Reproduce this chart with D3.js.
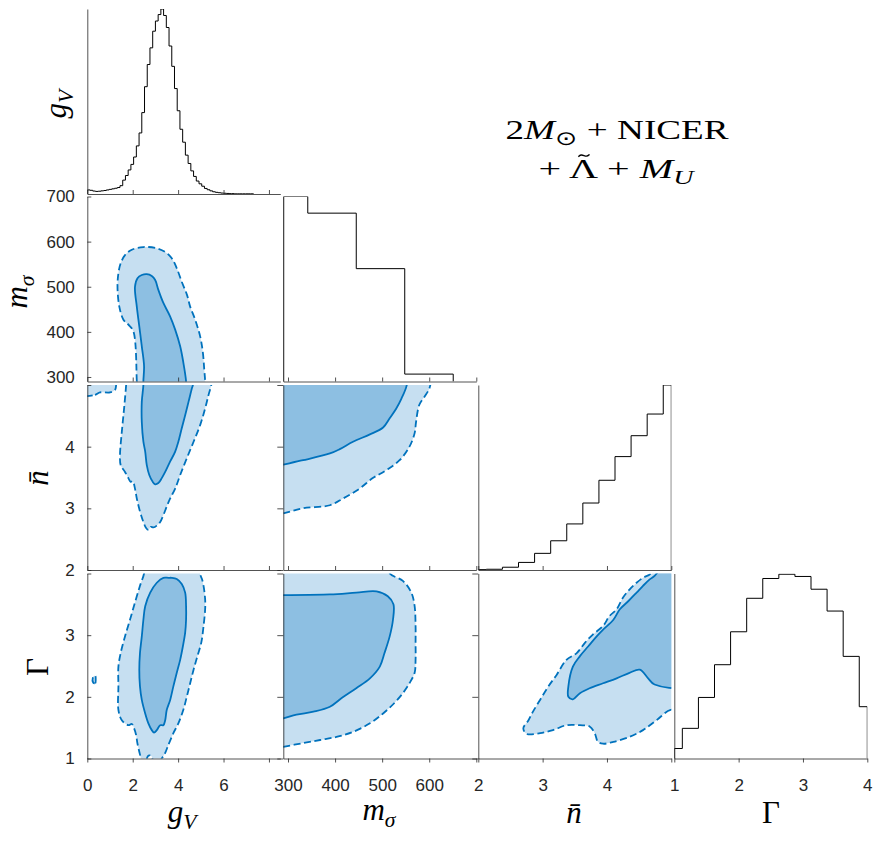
<!DOCTYPE html>
<html>
<head>
<meta charset="utf-8">
<script src="https://cdn.jsdelivr.net/npm/d3@7"></script>
<style>
body { margin: 0; background: white; }
svg { display: block; }
</style>
</head>
<body>
<svg id="corner" width="878" height="861"></svg>
<script>
// 1D marginals (normalised bin heights)
const gVHist = [0.022, 0.020, 0.016, 0.014, 0.015, 0.017, 0.019, 0.022, 0.025, 0.028, 0.031, 0.035,
    0.045, 0.075, 0.100, 0.130, 0.160, 0.200, 0.260, 0.330, 0.440, 0.580, 0.700, 0.790, 0.880, 0.935,
    0.970, 1.000, 0.965, 0.900, 0.800, 0.690, 0.570, 0.450, 0.350, 0.280, 0.210, 0.165, 0.125, 0.095,
    0.070, 0.055, 0.042, 0.030, 0.023, 0.017, 0.012, 0.009, 0.007, 0.005, 0.004, 0.003, 0.002, 0.002,
    0.001, 0.001, 0.001, 0.001, 0.001, 0.001, 0.001];
const mSigmaHist = [1.00, 0.91, 0.61, 0.04];
const nBarHist = [0.002, 0.004, 0.015, 0.041, 0.090, 0.158, 0.249, 0.362, 0.485, 0.613, 0.726, 0.843, 1.000];
const gammaHist = [0.054, 0.163, 0.330, 0.507, 0.685, 0.866, 0.973, 0.996, 0.984, 0.915, 0.797, 0.552, 0.280];

// 2D credible regions, [x, y] in data units (95% dashed, 68% solid)
const gV_mSigma_95 = [[2.20,270],[2.18,291],[2.03,401],[1.81,416],[1.59,427],[1.41,456],[1.33,500],[1.37,530],
    [1.47,552],[1.66,570],[1.96,582],[2.47,588],[2.99,586],[3.43,577],[3.72,563],[3.94,541],[4.16,511],
    [4.39,482],[4.53,456],[4.75,427],[4.97,390],[5.09,354],[5.15,317],[5.19,291],[5.20,270]];
const gV_mSigma_68 = [[2.47,270],[2.47,291],[2.50,324],[2.40,368],[2.29,412],[2.18,456],[2.10,500],[2.21,519],
    [2.40,526],[2.62,528],[2.84,524],[2.99,515],[3.13,493],[3.35,464],[3.65,434],[3.87,405],[4.09,368],
    [4.23,332],[4.35,291],[4.37,270]];
const gV_nBar_95 = [[1.74,5.2],[1.71,5.0],[1.62,4.62],[1.52,4.24],[1.44,3.86],[1.47,3.70],[1.66,3.59],[1.81,3.49],
    [1.91,3.43],[2.00,3.44],[2.10,3.32],[2.18,3.16],[2.32,2.95],[2.47,2.78],[2.59,2.68],[2.69,2.65],[2.80,2.70],
    [2.91,2.69],[3.06,2.72],[3.21,2.78],[3.35,2.89],[3.50,3.03],[3.65,3.16],[3.87,3.32],[4.09,3.54],[4.38,3.81],
    [4.68,4.08],[4.97,4.35],[5.19,4.62],[5.34,4.84],[5.46,5.0],[5.52,5.2]];
const gV_nBar_95b = [[-0.3,4.84],[0.34,4.84],[0.56,4.88],[1.00,4.88],[1.22,4.92],[1.27,5.0],[1.29,5.2],[-0.3,5.2]];
const gV_nBar_68 = [[2.47,5.2],[2.47,5.0],[2.40,4.73],[2.40,4.40],[2.47,4.08],[2.55,3.92],[2.62,3.70],[2.73,3.54],
    [2.88,3.43],[2.99,3.39],[3.13,3.41],[3.28,3.49],[3.43,3.59],[3.65,3.76],[3.87,3.92],[4.01,4.08],[4.16,4.30],
    [4.31,4.51],[4.46,4.73],[4.61,4.95],[4.65,5.0],[4.68,5.2]];
const gV_gamma_95 = [[2.55,4.2],[2.50,4.0],[2.32,3.80],[2.10,3.53],[1.88,3.25],[1.66,2.98],[1.47,2.71],[1.37,2.49],
    [1.37,2.17],[1.37,1.79],[1.52,1.62],[1.81,1.54],[1.96,1.56],[2.06,1.49],[2.15,1.38],[2.21,1.24],[2.29,1.11],
    [2.36,1.0],[2.40,0.85],[2.60,0.85],[2.64,1.02],[2.72,1.05],[2.82,1.04],[2.88,0.97],[2.92,0.85],[3.20,0.85],
    [3.25,0.98],[3.35,1.04],[3.43,1.09],[3.57,1.22],[3.79,1.41],[4.01,1.57],[4.23,1.79],[4.38,2.0],[4.53,2.22],
    [4.68,2.44],[4.85,2.66],[5.02,2.88],[5.12,3.15],[5.19,3.42],[5.19,3.58],[5.12,3.80],[5.05,3.91],[4.97,3.99],[4.95,4.2]];
const gV_gamma_95b = [[0.26,2.23],[0.35,2.22],[0.37,2.28],[0.35,2.34],[0.26,2.33]];
const gV_gamma_68 = [[3.57,3.93],[3.35,3.93],[3.06,3.85],[2.77,3.69],[2.55,3.47],[2.47,3.25],[2.40,2.98],[2.32,2.71],
    [2.29,2.44],[2.32,2.17],[2.40,1.95],[2.55,1.73],[2.69,1.57],[2.84,1.46],[2.94,1.42],[3.06,1.46],[3.21,1.54],
    [3.35,1.54],[3.43,1.62],[3.50,1.79],[3.65,1.95],[3.79,2.17],[3.94,2.39],[4.09,2.60],[4.21,2.82],[4.31,3.04],
    [4.35,3.25],[4.35,3.47],[4.31,3.69],[4.16,3.83],[3.94,3.91],[3.72,3.93]];
const mSigma_nBar_95 = [[260,2.88],[290,2.92],[332,3.0],[389,3.05],[417,3.16],[452,3.32],[480,3.49],[509,3.62],
    [537,3.78],[558,4.0],[569,4.22],[572,4.40],[579,4.68],[590,4.81],[599,4.92],[602,4.99],[604,5.2],[260,5.2]];
const mSigma_nBar_68 = [[260,3.66],[290,3.71],[332,3.78],[389,3.89],[410,3.96],[438,4.08],[474,4.20],[502,4.31],
    [516,4.46],[530,4.62],[541,4.78],[552,4.99],[554,5.2],[260,5.2]];
const mSigma_gamma_95 = [[260,1.15],[290,1.19],[332,1.25],[368,1.30],[403,1.35],[438,1.43],[474,1.57],[502,1.73],
    [526,1.90],[544,2.06],[558,2.22],[569,2.39],[571,2.60],[571,2.88],[571,3.15],[569,3.47],[562,3.69],[544,3.88],
    [516,4.0],[505,4.2],[260,4.2]];
const mSigma_gamma_68 = [[260,3.65],[290,3.65],[389,3.66],[445,3.69],[488,3.71],[512,3.63],[524,3.50],[523,3.25],
    [516,2.98],[505,2.71],[495,2.49],[474,2.30],[445,2.14],[414,1.98],[389,1.84],[354,1.76],[318,1.71],[290,1.65],[260,1.60]];
const nBar_gamma_95 = [[5.2,1.75],[4.99,1.79],[4.77,1.62],[4.56,1.46],[4.35,1.35],[4.10,1.27],[3.94,1.24],[3.86,1.27],
    [3.81,1.41],[3.73,1.52],[3.58,1.54],[3.37,1.54],[3.16,1.46],[2.96,1.41],[2.75,1.40],[2.70,1.49],[2.78,1.62],
    [2.85,1.76],[2.96,1.95],[3.09,2.17],[3.22,2.36],[3.37,2.60],[3.53,2.71],[3.66,2.88],[3.78,3.01],[3.94,3.15],
    [4.04,3.31],[4.15,3.42],[4.25,3.61],[4.35,3.74],[4.46,3.85],[4.56,3.93],[4.66,3.98],[4.76,4.05],[4.84,4.2],[5.2,4.2]];
const nBar_gamma_68 = [[5.2,2.20],[4.74,2.20],[4.64,2.30],[4.51,2.44],[4.35,2.39],[4.15,2.30],[3.94,2.22],[3.73,2.14],
    [3.58,2.06],[3.47,1.96],[3.40,2.0],[3.40,2.17],[3.47,2.49],[3.58,2.66],[3.71,2.82],[3.84,2.98],[3.94,3.09],
    [4.10,3.25],[4.20,3.42],[4.33,3.55],[4.46,3.69],[4.56,3.80],[4.66,3.90],[4.74,3.96],[4.80,4.05],[4.84,4.2],[5.2,4.2]];

// ticks
const gVTicks = [0, 2, 4, 6, 8], gVLabelsX = [0, 2, 4, 6];
const mSigmaTicks = [300, 400, 500, 600, 700], mSigmaLabelsX = [300, 400, 500, 600], mSigmaLabelsY = [300, 400, 500, 600, 700];
const nBarTicks = [2, 3, 4, 5], nBarLabelsX = [2, 3, 4], nBarLabelsY = [2, 3, 4];
const gammaTicks = [1, 2, 3, 4], gammaLabelsX = [1, 2, 3, 4], gammaLabelsY = [1, 2, 3];

window.addEventListener("load", main);

function main()
{
    const svg = d3.select("svg#corner");
    const axisColor = "#262626";
    const lightFill = "#c6dff1", darkFill = "#8dbfe2", lineBlue = "#0072bd";

    const colLeft = [87.3, 283.3, 478.3, 674.3];
    const rowTop = [9, 196.5, 385, 573.5];
    const panelW = 193, panelH = 185;
    const domains = [[0, 8.5], [290, 700], [2, 5], [1, 4]];

    const xScale = domains.map((d, i) => d3.scaleLinear().domain(d).range([colLeft[i], colLeft[i] + panelW]));
    const yScale = domains.map((d, i) => d3.scaleLinear().domain(d).range([rowTop[i] + panelH, rowTop[i]]));
    const hScale = rowTop.map(t => d3.scaleLinear().domain([0, 1]).range([t + panelH, t]));

    const hists = [
        {start: 0, width: 0.12, values: gVHist},
        {start: 239, width: 103, values: mSigmaHist},
        {start: 1.875, width: 0.25, values: nBarHist},
        {start: 0.875, width: 0.25, values: gammaHist}
    ];
    const regions = {
        "1-0": {p95: [gV_mSigma_95], p68: [gV_mSigma_68]},
        "2-0": {p95: [gV_nBar_95, gV_nBar_95b], p68: [gV_nBar_68]},
        "3-0": {p95: [gV_gamma_95, gV_gamma_95b], p68: [gV_gamma_68]},
        "2-1": {p95: [mSigma_nBar_95], p68: [mSigma_nBar_68]},
        "3-1": {p95: [mSigma_gamma_95], p68: [mSigma_gamma_68]},
        "3-2": {p95: [nBar_gamma_95], p68: [nBar_gamma_68]}
    };
    const xTicks = [gVTicks, mSigmaTicks, nBarTicks, gammaTicks];
    const xLabels = [gVLabelsX, mSigmaLabelsX, nBarLabelsX, gammaLabelsX];
    const yLabels = [[], mSigmaLabelsY, nBarLabelsY, gammaLabelsY];

    const defs = svg.append("defs");

    for (let r = 0; r < 4; r++) {
        for (let c = 0; c <= r; c++) {
            const clipId = "clip-" + r + "-" + c;
            defs.append("clipPath").attr("id", clipId)
                .append("rect").attr("x", colLeft[c]).attr("y", rowTop[r]).attr("width", panelW).attr("height", panelH);
            const panel = svg.append("g");
            const plot = panel.append("g").attr("clip-path", "url(#" + clipId + ")");

            if (r === c) {
                // stairs histogram
                const h = hists[r], dom = domains[c];
                const pts = [];
                h.values.forEach((v, i) => {
                    const a = Math.max(dom[0], h.start + i * h.width);
                    const b = Math.min(dom[1], h.start + (i + 1) * h.width);
                    if (i === 0) pts.push([a, 0]);
                    pts.push([a, v], [b, v]);
                    if (i === h.values.length - 1) pts.push([b, 0]);
                });
                plot.append("path")
                    .attr("d", d3.line().x(d => xScale[c](d[0])).y(d => hScale[r](d[1]))(pts))
                    .attr("fill", "none").attr("stroke", "black").attr("stroke-width", 1);
            } else {
                const reg = regions[r + "-" + c];
                const shape = d3.line().x(d => xScale[c](d[0])).y(d => yScale[r](d[1]))
                    .curve(d3.curveCatmullRomClosed.alpha(0.5));
                reg.p95.forEach(p => plot.append("path").attr("d", shape(p)).attr("fill", lightFill));
                reg.p68.forEach(p => plot.append("path").attr("d", shape(p)).attr("fill", darkFill));
                reg.p95.forEach(p => plot.append("path").attr("d", shape(p)).attr("fill", "none")
                    .attr("stroke", lineBlue).attr("stroke-width", 1.8).attr("stroke-dasharray", "7,3.5"));
                reg.p68.forEach(p => plot.append("path").attr("d", shape(p)).attr("fill", "none")
                    .attr("stroke", lineBlue).attr("stroke-width", 1.8));
            }

            // bottom axis
            const isBottom = r === 3;
            const xa = d3.axisBottom(xScale[c]).tickValues(xTicks[c])
                .tickSize(isBottom ? 4 : -4).tickSizeOuter(0)
                .tickPadding(isBottom ? 16 : 3)
                .tickFormat(d => isBottom && xLabels[c].includes(d) ? d : "");
            styleAxis(panel.append("g").attr("transform", "translate(0," + (rowTop[r] + panelH) + ")").call(xa));

            // left axis
            let ya;
            if (r === c) ya = d3.axisLeft(hScale[r]).tickValues([]).tickSizeOuter(0);
            else if (c === 0) ya = d3.axisLeft(yScale[r]).tickValues(xTicks[r]).tickSize(-4).tickSizeOuter(0)
                .tickPadding(12.5).tickFormat(d => yLabels[r].includes(d) ? d : "");
            else ya = d3.axisLeft(yScale[r]).tickValues(xTicks[r]).tickSize(6).tickSizeOuter(0).tickFormat("");
            styleAxis(panel.append("g").attr("transform", "translate(" + colLeft[c] + ",0)").call(ya));
        }
    }

    function styleAxis(g)
    {
        g.attr("color", axisColor)
            .attr("font-size", 17)
            .attr("font-family", "'Liberation Sans', Arial, sans-serif");
        g.selectAll("path, line").attr("stroke-width", 0.8);
        g.selectAll("text").attr("fill", axisColor);
    }

    // axis titles
    const serif = "'Liberation Serif', 'Times New Roman', serif";
    function mathText(x, y, rotate, parts, size)
    {
        const t = svg.append("text")
            .attr("transform", "translate(" + x + "," + y + ")" + (rotate ? " rotate(-90)" : ""))
            .attr("text-anchor", "middle")
            .attr("font-family", serif)
            .attr("font-size", size)
            .attr("fill", "black");
        parts.forEach(p => {
            const s = t.append("tspan").text(p.t);
            if (p.it) s.attr("font-style", "italic");
            if (p.sub) s.attr("font-size", size * 0.7).attr("dy", size * 0.22);
            if (p.dy !== undefined) s.attr("dy", p.dy * size);
        });
        return t;
    }
    const gVParts = [{t: "g", it: true}, {t: "V", it: true, sub: true}];
    const mSigmaParts = [{t: "m", it: true}, {t: "σ", it: true, sub: true}];
    const nBarParts = [{t: "n\u0304", it: true}];
    const gammaParts = [{t: "Γ"}];

    mathText(66, 104, true, gVParts, 31);
    mathText(27, 292, true, mSigmaParts, 31);
    mathText(48, 478, true, nBarParts, 31);
    mathText(48, 667, true, gammaParts, 31);

    mathText(182, 822, false, gVParts, 31);
    mathText(379, 820, false, mSigmaParts, 31);
    mathText(574, 823, false, nBarParts, 31);
    mathText(771, 823, false, gammaParts, 31);

    // title
    mathText(617, 139, false, [{t: "2"}, {t: "M", it: true}, {t: "\u2299", sub: true}, {t: " + NICER", dy: -0.22}], 28)
        .attr("textLength", 223).attr("lengthAdjust", "spacingAndGlyphs");
    const line2 = mathText(616, 178, false, [{t: "+ \u039B + "}, {t: "M", it: true}, {t: "U", it: true, sub: true}], 28)
        .attr("textLength", 155).attr("lengthAdjust", "spacingAndGlyphs");

    // tilde over the Lambda, drawn as a small curve
    const node = line2.node();
    const a = node.getStartPositionOfChar(2), b = node.getEndPositionOfChar(2);
    const cx = (a.x + b.x) / 2 + 1, ty = -0.8 * 28, tw = 0.2 * 28;
    const tilde = [[-tw, 1.2], [-tw / 2, -1.5], [tw / 2, 1.5], [tw, -1.2]];
    svg.append("path")
        .attr("transform", "translate(616,178)")
        .attr("d", d3.line().x(d => cx + d[0]).y(d => ty + d[1]).curve(d3.curveBasis)(tilde))
        .attr("fill", "none").attr("stroke", "black").attr("stroke-width", 1.4);
}
</script>
</body>
</html>
